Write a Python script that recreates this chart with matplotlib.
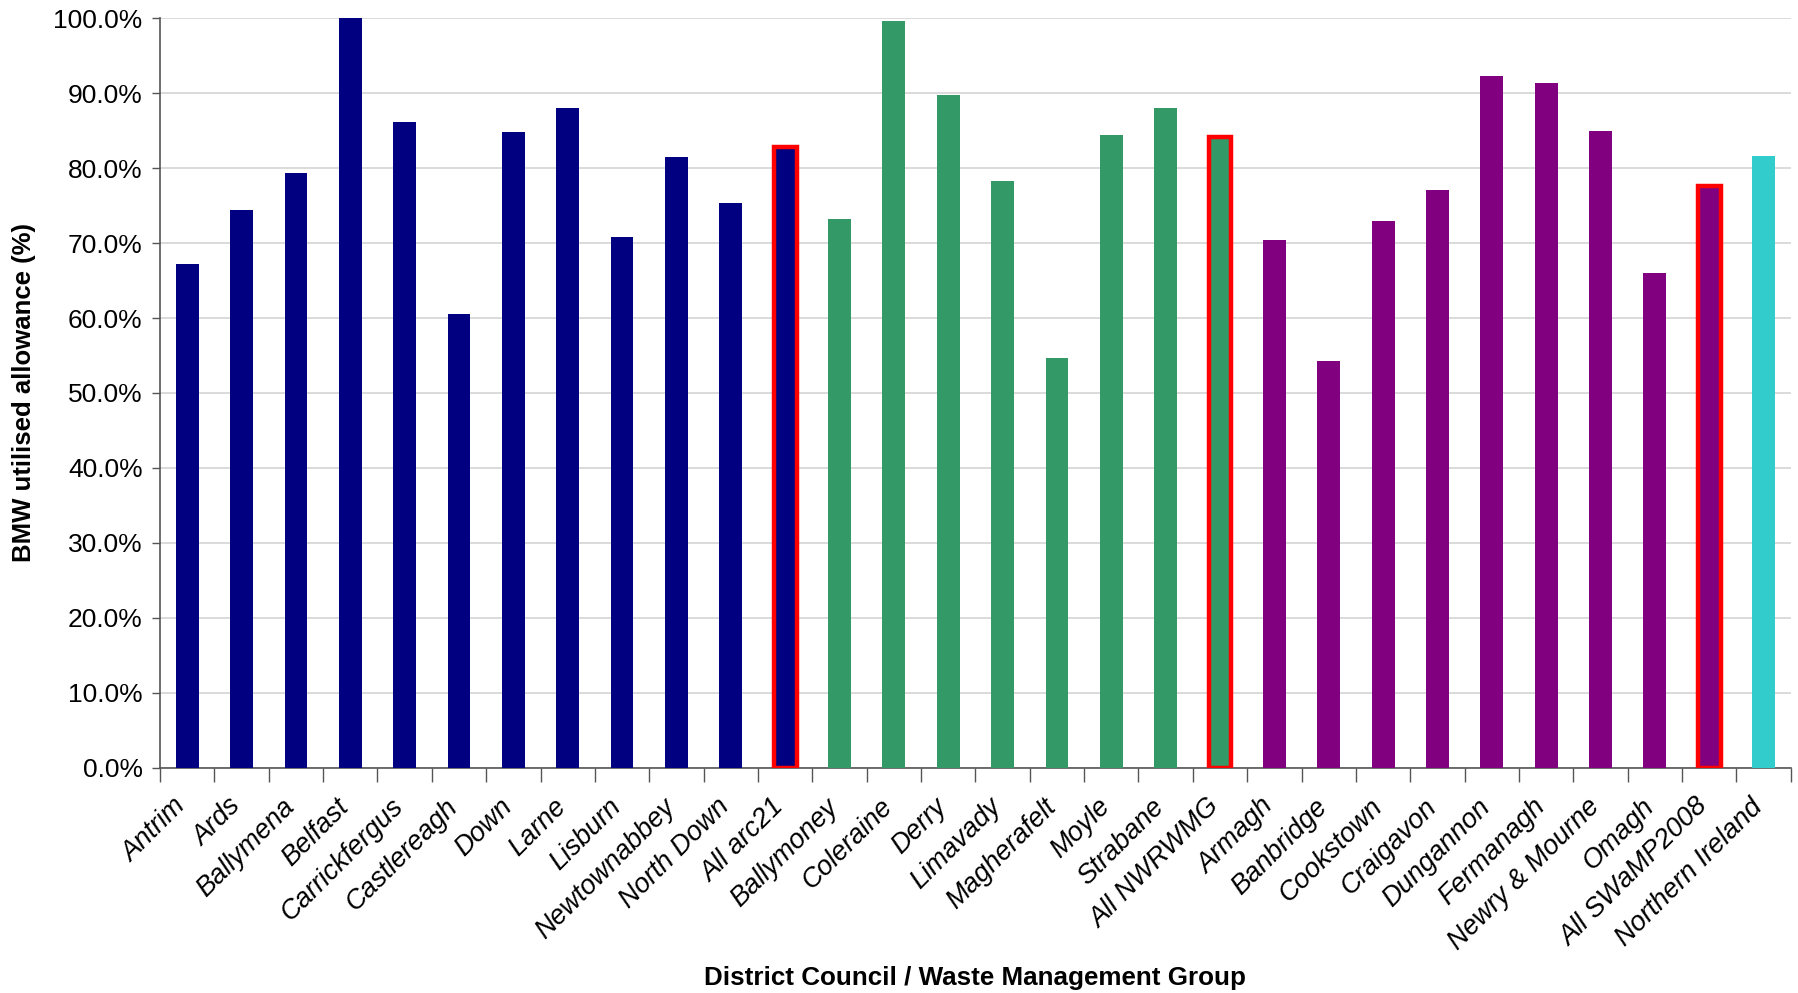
import matplotlib.pyplot as plt
import numpy as np

# BMW utilised allowance by council / group
councils = ['Antrim', 'Ards', 'Ballymena', 'Belfast', 'Carrickfergus', 'Castlereagh',
            'Down', 'Larne', 'Lisburn', 'Newtownabbey', 'North Down', 'All arc21',
            'Ballymoney', 'Coleraine', 'Derry', 'Limavady', 'Magherafelt', 'Moyle',
            'Strabane', 'All NWRWMG',
            'Armagh', 'Banbridge', 'Cookstown', 'Craigavon', 'Dungannon', 'Fermanagh',
            'Newry & Mourne', 'Omagh', 'All SWaMP2008',
            'Northern Ireland']
utilised = [67.2, 74.4, 79.4, 100.0, 86.1, 60.6, 84.8, 88.0, 70.8, 81.5, 75.4, 82.8,
            73.2, 99.6, 89.8, 78.3, 54.7, 84.4, 88.0, 84.2,
            70.4, 54.3, 73.0, 77.1, 92.3, 91.4, 85.0, 66.0, 77.6,
            81.6]
group = ['arc21'] * 12 + ['NWRWMG'] * 8 + ['SWaMP'] * 9 + ['NI']
group_totals = ['All arc21', 'All NWRWMG', 'All SWaMP2008']

group_colours = {'arc21': '#000080', 'NWRWMG': '#339966', 'SWaMP': '#800080', 'NI': '#33CCCC'}

plt.rcParams['font.family'] = 'Liberation Sans'
fig = plt.figure(figsize=(17.98, 9.93), dpi=100)
ax = fig.add_axes([0.089, 0.2269, 0.907, 0.7547])

x = np.arange(len(councils))
cols = [group_colours[g] for g in group]
bars = ax.bar(x, utilised, width=0.42, color=cols, zorder=3)
for b, name in zip(bars, councils):
    if name in group_totals:
        b.set_edgecolor('#FF0000')
        b.set_linewidth(3.2)

ax.set_xlim(-0.5, len(councils) - 0.5)
ax.set_ylim(0, 100)
ax.set_yticks(np.arange(0, 101, 10))
ax.set_yticklabels(['%.1f%%' % v for v in np.arange(0, 101, 10)], fontsize=19)
ax.yaxis.grid(True, color='#d4d4d4', linewidth=1.2, zorder=0)

ax.set_xticks(x)
ax.set_xticks(np.arange(-0.5, len(councils), 1), minor=True)
ax.set_xticklabels(councils, rotation=45, ha='right', va='baseline',
                   rotation_mode='anchor', fontsize=19.5, style='italic')
ax.tick_params(axis='x', which='major', length=0, pad=29)
ax.tick_params(axis='x', which='minor', length=10, width=1, color='#555555', direction='out')
ax.tick_params(axis='y', length=5.5, width=1, color='#555555', pad=7)

for s in ['top', 'right']:
    ax.spines[s].set_visible(False)
for s in ['left', 'bottom']:
    ax.spines[s].set_color('#555555')
    ax.spines[s].set_linewidth(1.2)

ax.set_ylabel('BMW utilised allowance (%)', fontsize=18.5, fontweight='bold')
ax.yaxis.set_label_coords(-0.076, 0.5)
ax.set_xlabel('District Council / Waste Management Group', fontsize=18.7, fontweight='bold')
ax.xaxis.set_label_coords(0.5, -0.264)

fig.savefig('out.png', dpi=100)
